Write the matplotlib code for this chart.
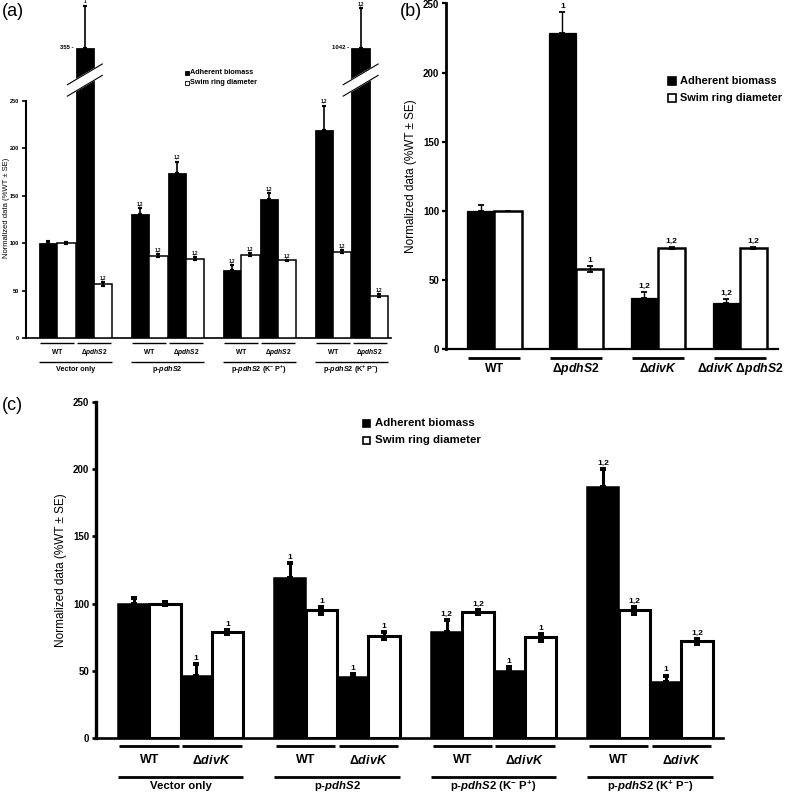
import matplotlib
matplotlib.use("Agg")
import matplotlib.pyplot as plt
import matplotlib.transforms as mtransforms
from matplotlib.patches import Rectangle

plt.rcParams["font.family"] = ["Liberation Sans", "DejaVu Sans"]
plt.rcParams["font.weight"] = "bold"
plt.rcParams["mathtext.fontset"] = "custom"
plt.rcParams["mathtext.rm"] = "Liberation Sans:bold"
plt.rcParams["mathtext.it"] = "Liberation Sans:italic:bold"
plt.rcParams["mathtext.bf"] = "Liberation Sans:bold"

W, H = 787, 795

# ---- data: panel (a) ----
groups_a = ["Vector only", r"p-$\mathit{pdhS2}$",
            r"p-$\mathit{pdhS2}$ (K$^{-}$ P$^{+}$)", r"p-$\mathit{pdhS2}$ (K$^{+}$ P$^{-}$)"]
strains_a = ["WT", r"$\Delta\mathit{pdhS2}$"]
biomass_a = [100, 355, 131, 174, 72, 147, 219, 1042]
biomass_err_a = [3, 44, 6, 12, 5, 6, 26, 42]
biomass_sig_a = ["", "1", "1,2", "1,2", "1,2", "1,2", "1,2", "1,2"]
swim_a = [100, 57, 87, 84, 88, 82, 91, 45]
swim_err_a = [1, 2, 1.5, 1.5, 1.5, 0.5, 1.5, 1.5]
swim_sig_a = ["", "1,2", "1,2", "1,2", "1,2", "1,2", "1,2", "1,2"]

# ---- data: panel (b) ----
strains_b = ["WT", r"$\Delta\mathit{pdhS2}$", r"$\Delta\mathit{divK}$",
             r"$\Delta\mathit{divK}$ $\Delta\mathit{pdhS2}$"]
biomass_b = [100, 229, 37, 33]
biomass_err_b = [4, 15, 4, 3.5]
biomass_sig_b = ["", "1", "1,2", "1,2"]
swim_b = [100, 58, 73, 73]
swim_err_b = [0, 2, 0.8, 0.8]
swim_sig_b = ["", "1", "1,2", "1,2"]

# ---- data: panel (c) ----
groups_c = groups_a
strains_c = ["WT", r"$\Delta\mathit{divK}$"]
biomass_c = [100, 46, 119, 45.5, 79, 49.5, 187, 42]
biomass_err_c = [4.5, 9, 11, 2, 9, 3.5, 13, 4.5]
biomass_sig_c = ["", "1", "1", "1", "1,2", "1", "1,2", "1"]
swim_c = [100, 79, 95, 76, 94, 75, 95, 72]
swim_err_c = [1, 1.5, 2.5, 2.5, 1.5, 2.5, 2.5, 2]
swim_sig_c = ["", "1", "1", "1", "1,2", "1", "1,2", "1,2"]

BREAK_TOP = 306  # displayed height of the broken bars in (a)

fig = plt.figure(figsize=(W / 100, H / 100), dpi=100)


def add_axes_px(left, bottom, width, height):
    return fig.add_axes([left / W, 1 - bottom / H, width / W, height / H])


def fy(py):
    return 1 - py / H


def draw_bars(ax, xb, xs, bio, bio_err, bio_sig, swim, swim_err, swim_sig,
              lw, elw, cap, sig_fs, broken=None):
    shown = [min(v, BREAK_TOP) if broken else v for v in bio]
    ax.bar(xb, shown, width=1, color="black", edgecolor="black", lw=lw * 0.5, zorder=2)
    ax.bar(xs, swim, width=1, color="white", edgecolor="black", lw=lw, zorder=3)
    ax.errorbar(xb, shown, yerr=[[0] * len(bio), bio_err], fmt="none", ecolor="black",
                elinewidth=elw, capsize=cap, capthick=elw * 1.3, zorder=4)
    ax.errorbar(xs, swim, yerr=swim_err, fmt="none", ecolor="black",
                elinewidth=elw, capsize=cap, capthick=elw * 1.3, zorder=4)
    for x, t, e, s in zip(xb, shown, bio_err, bio_sig):
        if s:
            ax.annotate(s, (x, t + e), xytext=(0, 1.5), textcoords="offset points",
                        ha="center", va="bottom", fontsize=sig_fs)
    for x, t, e, s in zip(xs, swim, swim_err, swim_sig):
        if s:
            ax.annotate(s, (x, t + e), xytext=(0, 1.5), textcoords="offset points",
                        ha="center", va="bottom", fontsize=sig_fs)
    if broken:
        for x, v in zip(xb, bio):
            if v > BREAK_TOP:
                yc, half, slope, hl = 272, 6.0, 11.5, 0.95
                xx = [x - hl, x + hl, x + hl, x - hl]
                yy = [yc - half - slope * hl, yc - half + slope * hl,
                      yc + half + slope * hl, yc + half - slope * hl]
                ax.fill(xx, yy, color="white", zorder=5, clip_on=False)
                ax.plot([x - hl, x + hl], [yc - half - slope * hl, yc - half + slope * hl],
                        color="black", lw=0.8, zorder=6)
                ax.plot([x - hl, x + hl], [yc + half - slope * hl, yc + half + slope * hl],
                        color="black", lw=0.8, zorder=6)
                ax.text(x - 0.62, BREAK_TOP, f"{v:g} -", ha="right", va="center",
                        fontsize=broken)


def style_axes(ax, spine_lw, tick_fs, ylim_top, xlim):
    ax.set_xlim(*xlim)
    ax.set_ylim(0, ylim_top)
    for s in ("top", "right"):
        ax.spines[s].set_visible(False)
    ax.spines["left"].set_linewidth(spine_lw)
    ax.spines["bottom"].set_linewidth(spine_lw * 0.8)
    ax.spines["left"].set_bounds(0, 250)
    ax.set_yticks(range(0, 251, 50))
    ax.tick_params(axis="y", length=3, width=spine_lw * 0.8, labelsize=tick_fs, pad=2)
    ax.tick_params(axis="x", length=0, labelbottom=False)
    ax.patch.set_alpha(0)


def xlabels(ax, pairs, strains, groups, pair_px, text_px, group_line_px, group_px,
            lw, sfs, gfs, inset=0.08):
    tr = mtransforms.blended_transform_factory(ax.transData, fig.transFigure)
    for i, (x0, x1) in enumerate(pairs):
        ax.plot([x0 + inset, x1 - inset], [fy(pair_px)] * 2, color="black", lw=lw,
                transform=tr, clip_on=False, solid_capstyle="butt")
        ax.text((x0 + x1) / 2, fy(text_px), strains[i % len(strains)], transform=tr,
                ha="center", va="center", fontsize=sfs)
    if groups:
        for g, name in enumerate(groups):
            x0 = g * 5
            ax.plot([x0, x0 + 4], [fy(group_line_px)] * 2, color="black", lw=lw,
                    transform=tr, clip_on=False, solid_capstyle="butt")
            ax.text(x0 + 2, fy(group_px), name, transform=tr, ha="center", va="center",
                    fontsize=gfs)


def legend_px(sq_x, sq_size, text_x, rows_y, fs):
    for y, face in zip(rows_y, ["black", "white"]):
        fig.add_artist(Rectangle((sq_x / W, fy(y + sq_size / 2)), sq_size / W, sq_size / H,
                                 facecolor=face, edgecolor="black",
                                 lw=0.6 if sq_size < 6 else 1.2, transform=fig.transFigure))
    fig.text(text_x / W, fy(rows_y[0]), "Adherent biomass", fontsize=fs, va="center")
    fig.text(text_x / W, fy(rows_y[1]), "Swim ring diameter", fontsize=fs, va="center")


# ---- panel (a) ----
ax_a = add_axes_px(26, 338.3, 365, 338)
xb_a = [(i // 2) * 5 + (i % 2) * 2 + 0.5 for i in range(8)]
xs_a = [x + 1 for x in xb_a]
draw_bars(ax_a, xb_a, xs_a, biomass_a, biomass_err_a, biomass_sig_a,
          swim_a, swim_err_a, swim_sig_a, lw=1.1, elw=1.2, cap=1.2, sig_fs=3.3, broken=4.3)
style_axes(ax_a, 1.5, 4, 356, (-0.7, 19.15))
xlabels(ax_a, [(x - 0.5, x + 1.5) for x in xb_a], strains_a, groups_a,
        343, 352.5, 362, 369.5, lw=1.0, sfs=4.8, gfs=5.2)
ax_a.set_ylabel("Normalized data (%WT \u00b1 SE)", fontsize=5.5)
ax_a.yaxis.set_label_coords(-0.043, 0.385)
legend_px(184.5, 4.5, 190, [73, 83], 5.2)
fig.text(2 / W, fy(11), "(a)", fontsize=13, fontweight="normal", va="center")

# ---- panel (b) ----
ax_b = add_axes_px(446, 349, 332, 345.5)
xb_b = [i * 3 + 0.5 for i in range(4)]
xs_b = [x + 1 for x in xb_b]
draw_bars(ax_b, xb_b, xs_b, biomass_b, biomass_err_b, biomass_sig_b,
          swim_b, swim_err_b, swim_sig_b, lw=1.8, elw=1.0, cap=2.2, sig_fs=6)
style_axes(ax_b, 2.0, 7, 250, (-0.77, 11.4))
xlabels(ax_b, [(x - 0.5, x + 1.5) for x in xb_b], strains_b, None,
        358, 369, None, None, lw=2.0, sfs=8.8, gfs=9, inset=0.05)
ax_b.set_ylabel("Normalized data (%WT \u00b1 SE)", fontsize=8.5, labelpad=4)
legend_px(668, 8, 680, [80.5, 98], 7.9)
fig.text(400 / W, fy(11), "(b)", fontsize=13, fontweight="normal", va="center")

# ---- panel (c) ----
ax_c = add_axes_px(96, 738, 627, 336)
xb_c = [(i // 2) * 5 + (i % 2) * 2 + 0.5 for i in range(8)]
xs_c = [x + 1 for x in xb_c]
draw_bars(ax_c, xb_c, xs_c, biomass_c, biomass_err_c, biomass_sig_c,
          swim_c, swim_err_c, swim_sig_c, lw=2.2, elw=2.2, cap=2.0, sig_fs=6)
style_axes(ax_c, 2.4, 7, 250, (-0.7, 19.33))
xlabels(ax_c, [(x - 0.5, x + 1.5) for x in xb_c], strains_c, groups_c,
        746, 760, 777, 786, lw=2.0, sfs=9, gfs=8.2, inset=0.05)
ax_c.set_ylabel("Normalized data (%WT \u00b1 SE)", fontsize=8.5, labelpad=4)
legend_px(363, 7, 375, [423, 440], 8.2)
fig.text(2 / W, fy(405), "(c)", fontsize=13, fontweight="normal", va="center")

fig.savefig("out.png", dpi=100)
